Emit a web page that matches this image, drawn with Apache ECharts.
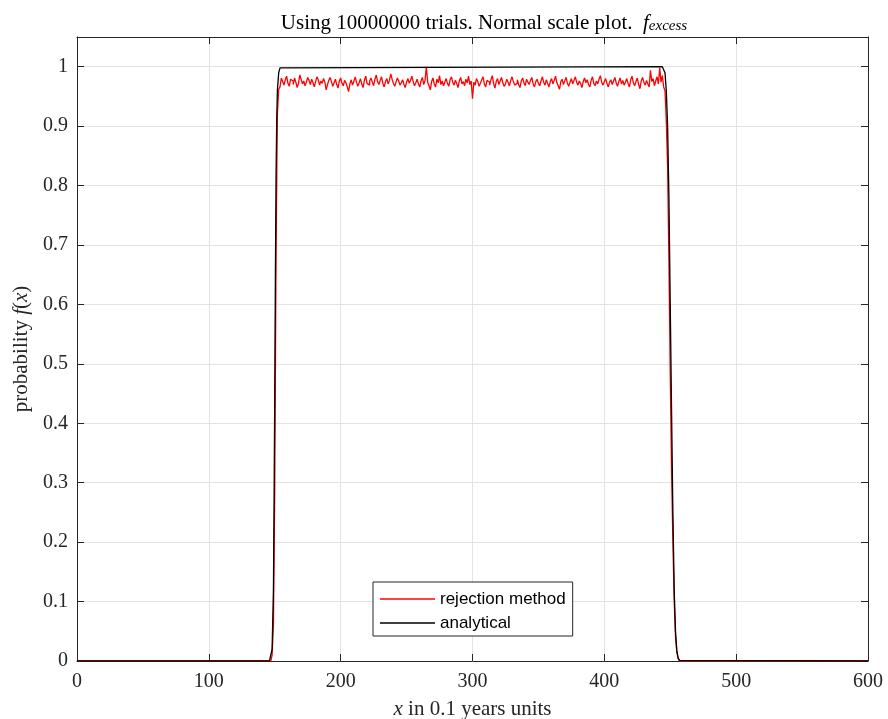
<!DOCTYPE html>
<html><head><meta charset="utf-8">
<script src="https://cdn.jsdelivr.net/npm/echarts@6/dist/echarts.min.js"></script>
<style>html,body{margin:0;padding:0;background:#fff}#c{width:888px;height:719px}</style>
</head><body><div id="c"></div>
<script>
// x-axis ticks / y-axis ticks
const xTicks = [0, 100, 200, 300, 400, 500, 600];
const yTicks = [0, 0.1, 0.2, 0.3, 0.4, 0.5, 0.6, 0.7, 0.8, 0.9, 1];

// rejection method: histogram values at integer x starting at redStartX
const redStartX = 147;
const redValues = [
  0.002, 0.01, 0.06, 0.29, 0.69, 0.92,
  0.962, 0.966, 0.981, 0.975, 0.969, 0.978, 0.984, 0.972, 0.967, 0.979,
  0.976, 0.970, 0.981, 0.974, 0.965, 0.972, 0.986, 0.979, 0.971, 0.976,
  0.968, 0.974, 0.982, 0.977, 0.970, 0.979, 0.973, 0.966, 0.975, 0.983,
  0.978, 0.969, 0.976, 0.972, 0.980, 0.974, 0.961, 0.970, 0.977, 0.982,
  0.975, 0.967, 0.973, 0.979, 0.970, 0.964, 0.976, 0.981, 0.972, 0.968,
  0.977, 0.973, 0.966, 0.958, 0.971, 0.978, 0.969, 0.975, 0.983, 0.974,
  0.967, 0.973, 0.980, 0.971, 0.965, 0.977, 0.984, 0.972, 0.969, 0.976,
  0.981, 0.974, 0.968, 0.979, 0.986, 0.975, 0.970, 0.977, 0.983, 0.972,
  0.966, 0.975, 0.980, 0.971, 0.977, 0.988, 0.979, 0.972, 0.967, 0.974,
  0.981, 0.976, 0.969, 0.973, 0.978, 0.970, 0.965, 0.974, 0.980, 0.972,
  0.977, 0.984, 0.975, 0.968, 0.973, 0.979, 0.971, 0.966, 0.976, 0.982,
  0.970, 0.977, 1.000, 0.974, 0.968, 0.961, 0.975, 0.981, 0.971, 0.966,
  0.979, 0.973, 0.985, 0.970, 0.976, 0.968, 0.974, 0.980, 0.972, 0.967,
  0.978, 0.983, 0.974, 0.969, 0.977, 0.972, 0.965, 0.976, 0.982, 0.971,
  0.975, 0.968, 0.979, 0.973, 0.984, 0.970, 0.976, 0.946, 0.974, 0.969,
  0.980, 0.975, 0.967, 0.972, 0.978, 0.983, 0.971, 0.966, 0.977, 0.974,
  0.969, 0.978, 0.985, 0.972, 0.964, 0.975, 0.980, 0.970, 0.976, 0.982,
  0.973, 0.967, 0.971, 0.979, 0.974, 0.968, 0.977, 0.983, 0.975, 0.969,
  0.972, 0.978, 0.970, 0.965, 0.976, 0.981, 0.973, 0.968, 0.979, 0.974,
  0.970, 0.977, 0.982, 0.971, 0.966, 0.975, 0.979, 0.972, 0.968, 0.976,
  0.983, 0.974, 0.969, 0.978, 0.972, 0.966, 0.975, 0.980, 0.971, 0.977,
  0.984, 0.973, 0.968, 0.962, 0.975, 0.979, 0.970, 0.976, 0.982, 0.972,
  0.967, 0.974, 0.980, 0.971, 0.977, 0.983, 0.974, 0.969, 0.976, 0.972,
  0.965, 0.975, 0.981, 0.973, 0.978, 0.970, 0.966, 0.977, 0.983, 0.972,
  0.968, 0.976, 0.971, 0.979, 0.985, 0.974, 0.969, 0.975, 0.980, 0.972,
  0.966, 0.974, 0.978, 0.970, 0.976, 0.982, 0.973, 0.967, 0.975, 0.981,
  0.971, 0.977, 0.969, 0.974, 0.980, 0.972, 0.966, 0.978, 0.984, 0.973,
  0.968, 0.975, 0.981, 0.970, 0.963, 0.976, 0.982, 0.974, 0.969, 0.977,
  0.971, 0.966, 0.994, 0.975, 0.980, 0.968, 0.976, 0.983, 0.971, 0.998,
  0.974, 0.985, 0.966,
  0.96, 0.91, 0.83, 0.67, 0.48, 0.32, 0.20, 0.10, 0.04, 0.015, 0.004, 0
];
const redRangeX = [0, 600];

// analytical curve
const anaX = [0, 146, 147, 148, 149, 149.5, 150, 150.5, 151, 151.5, 152, 153, 154, 155,
  444, 445, 446, 447, 448, 449, 450, 451, 452, 453, 454, 455, 456, 457, 458, 600];
const anaY = [0, 0, 0.003, 0.02, 0.12, 0.27, 0.45, 0.65, 0.82, 0.91, 0.96, 0.99, 0.998, 1,
  1, 0.998, 0.99, 0.96, 0.9, 0.78, 0.6, 0.42, 0.25, 0.12, 0.05, 0.017, 0.005, 0.001, 0, 0];

const redData = [[redRangeX[0], 0]];
redValues.forEach((v, i) => redData.push([redStartX + i, v]));
redData.push([redRangeX[1], 0]);
const anaData = anaX.map((x, i) => [x, anaY[i]]);

const serif = 'Liberation Serif';
const tickFont = {fontFamily: serif, fontSize: 20, color: '#262626'};
const axisCol = '#262626';
const chart = echarts.init(document.getElementById('c'));
chart.setOption({
  animation: false,
  backgroundColor: '#fff',
  title: {
    text: '{n|Using 10000000 trials. Normal scale plot.  }{i|f}{s|excess}',
    left: 479, textAlign: 'center', top: 3,
    textStyle: {
      fontWeight: 'normal',
      rich: {
        n: {fontFamily: serif, fontSize: 21, fontWeight: 'normal', color: '#000', verticalAlign: 'bottom', lineHeight: 26},
        i: {fontFamily: serif, fontSize: 21, fontWeight: 'normal', fontStyle: 'italic', color: '#000', verticalAlign: 'bottom', lineHeight: 26},
        s: {fontFamily: serif, fontSize: 15, fontWeight: 'normal', fontStyle: 'italic', color: '#000', verticalAlign: 'bottom', lineHeight: 19}
      }
    }
  },
  legend: {
    left: 373, top: 582, orient: 'vertical',
    backgroundColor: '#fff', borderColor: axisCol, borderWidth: 1,
    padding: [7, 7, 3, 7], itemGap: 4, itemWidth: 55, itemHeight: 1.6,
    icon: 'rect',
    textStyle: {fontFamily: 'Liberation Sans', fontSize: 17, color: '#000', lineHeight: 20},
    data: ['rejection method', 'analytical']
  },
  grid: {left: 77, right: 20, top: 37, bottom: 58, containLabel: false, outerBoundsMode: 'none'},
  xAxis: [{
    type: 'value', min: xTicks[0], max: xTicks[xTicks.length - 1], interval: 100,
    axisLine: {onZero: false, lineStyle: {color: axisCol, width: 1}},
    axisTick: {inside: true, length: 7, lineStyle: {color: axisCol}},
    axisLabel: Object.assign({margin: 11}, tickFont),
    splitLine: {show: true, lineStyle: {color: '#e3e3e3', width: 1}},
    name: '{i|x} in 0.1 years units', nameLocation: 'middle', nameGap: 38,
    nameTextStyle: {fontFamily: serif, fontSize: 21, color: '#262626',
      rich: {i: {fontFamily: serif, fontSize: 21, fontStyle: 'italic', color: '#262626'}}}
  }, {
    type: 'value', position: 'top', min: 0, max: 600, interval: 100,
    axisLine: {show: true, onZero: false, lineStyle: {color: axisCol, width: 1}},
    axisTick: {show: true, inside: true, length: 7, lineStyle: {color: axisCol}},
    axisLabel: {show: false}, splitLine: {show: false}
  }],
  yAxis: [{
    type: 'value', min: 0, max: 1.05, interval: 0.1,
    axisLine: {show: true, onZero: false, lineStyle: {color: axisCol, width: 1}},
    axisTick: {inside: true, length: 7, lineStyle: {color: axisCol},
      customValues: yTicks},
    axisLabel: Object.assign({margin: 9, customValues: yTicks,
      formatter: v => String(+v.toFixed(2))}, tickFont),
    splitLine: {show: true, lineStyle: {color: '#e3e3e3', width: 1}},
    name: 'probability {i|f}({i|x})', nameLocation: 'middle', nameGap: 38, nameRotate: 90,
    nameTextStyle: {fontFamily: serif, fontSize: 21, color: '#262626',
      rich: {i: {fontFamily: serif, fontSize: 21, fontStyle: 'italic', color: '#262626'}}}
  }, {
    type: 'value', position: 'right', min: 0, max: 1.05, interval: 0.1,
    axisLine: {show: true, onZero: false, lineStyle: {color: axisCol, width: 1}},
    axisTick: {show: true, inside: true, length: 7, lineStyle: {color: axisCol}, customValues: yTicks},
    axisLabel: {show: false}, splitLine: {show: false}
  }],
  series: [{
    name: 'rejection method', type: 'line', step: 'end', data: redData,
    symbol: 'none', color: '#ff0000', lineStyle: {color: '#ff0000', width: 1.3}, z: 2
  }, {
    name: 'analytical', type: 'line', data: anaData,
    symbol: 'none', color: '#000', lineStyle: {color: '#000', width: 1.3}, z: 3
  }]
});
</script></body></html>
